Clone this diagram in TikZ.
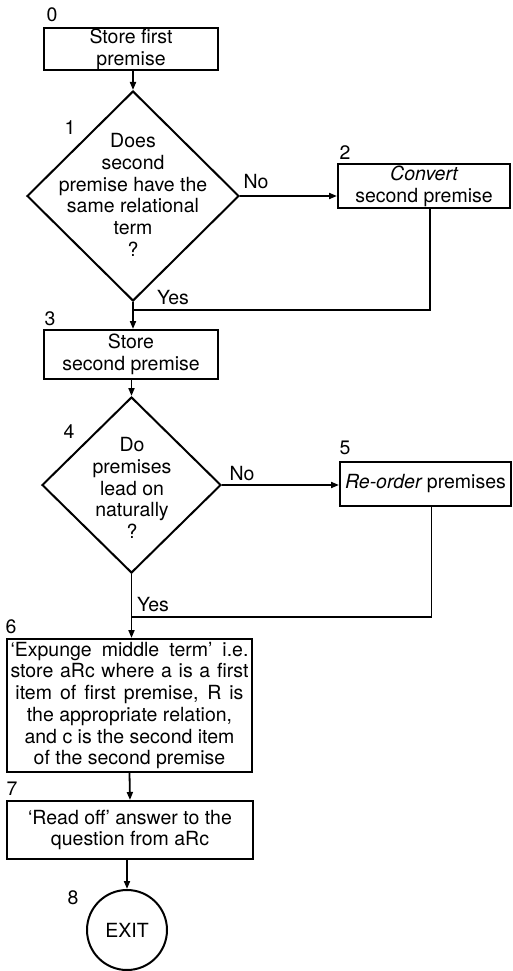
\documentclass[tikz,border=0pt]{standalone}
\usepackage{fontspec}
\setmainfont{TeX Gyre Heros}
\usetikzlibrary{shapes.geometric,arrows.meta,calc}
\begin{document}
\begin{tikzpicture}[x=1pt,y=-1pt,
  every node/.style={font=\fontsize{19.5}{21.7}\selectfont},
  box/.style={draw, line width=2pt, inner sep=0pt, align=center},
  decision/.style={draw, diamond, line width=2pt, inner sep=0pt},
  endcircle/.style={draw, circle, line width=2pt, inner sep=0pt, minimum size=80pt},
  qtext/.style={inner sep=0pt, align=center},
  num/.style={inner sep=0pt},
  flow/.style={line width=1.8pt},
  arr/.style={flow, -{Triangle[length=8pt,width=6pt]}},
]
\useasboundingbox (0,0) rectangle (513,971);

% boxes, decisions and exit
\node[box, minimum width=174pt, minimum height=42pt] (b0) at (131,49) {Store first\\premise};
\node[decision, minimum width=212pt, minimum height=210pt] (d1) at (133,196) {};
\node[qtext] (t1) at (133,195) {Does\\second\\premise have the\\same relational\\term\\?};
\node[box, minimum width=172pt, minimum height=44pt] (b2) at (424,186) {{\itshape Convert}\\second premise};
\node[box, minimum width=174pt, minimum height=49pt] (b3) at (131,354.5) {Store\\second premise};
\node[decision, minimum width=179pt, minimum height=176pt] (d4) at (131.5,485) {};
\node[qtext] (t4) at (132,488) {Do\\premises\\lead on\\naturally\\?};
\node[box, minimum width=171pt, minimum height=44pt] (b5) at (425.5,484) {{\itshape Re-order} premises};
\node[box, minimum width=245pt, minimum height=133pt] (b6) at (129.5,705.5)
  {\makebox[238pt][s]{‘Expunge middle term’ i.e.}\\
   \makebox[238pt][s]{store aRc where a is a first}\\
   \makebox[228pt][s]{item of first premise, R is}\\
   the appropriate relation,\\
   and c is the second item\\
   of the second premise};
\node[box, minimum width=246pt, minimum height=58pt] (b7) at (130,830) {‘Read off’ answer to the\\question from aRc};
\node[endcircle] (c8) at (127,930) {EXIT};

% step numbers
\node[num] (n0) at (52,15) {0};
\node[num] (n1) at (70,128) {1};
\node[num] (n2) at (345,153) {2};
\node[num] (n3) at (50,319) {3};
\node[num] (n4) at (69,432) {4};
\node[num] (n5) at (345,448) {5};
\node[num] (n6) at (11,627) {6};
\node[num] (n7) at (12,789) {7};
\node[num] (n8) at (73,898) {8};

% branch labels
\node[num] (no1) at (256,182) {No};
\node[num] (yes1) at (173,298) {Yes};
\node[num] (no4) at (242,474) {No};
\node[num] (yes4) at (153,605) {Yes};

% junction points where the side branches rejoin
\coordinate (j1) at (133,310);
\coordinate (j2) at (131,617);

% connectors
\draw[arr] (b0.south -| d1.north) -- (d1.north);
\draw[arr] (d1.east) -- (d1.east -| b2.west);
\draw[flow] ([xshift=6pt]b2.south) |- (j1);
\draw[arr] (d1.south) -- (d1.south |- b3.north);
\draw[arr] (b3.south -| d4.north) -- (d4.north);
\draw[arr] (d4.east) -- (d4.east -| b5.west);
\draw[flow] ([xshift=6pt]b5.south) |- (j2);
\draw[arr] (d4.south) -- (d4.south |- b6.north);
\draw[arr] (b6.south) -- (b7.north);
\draw[arr] (b7.south -| c8.north) -- (c8.north);
\end{tikzpicture}
\end{document}
